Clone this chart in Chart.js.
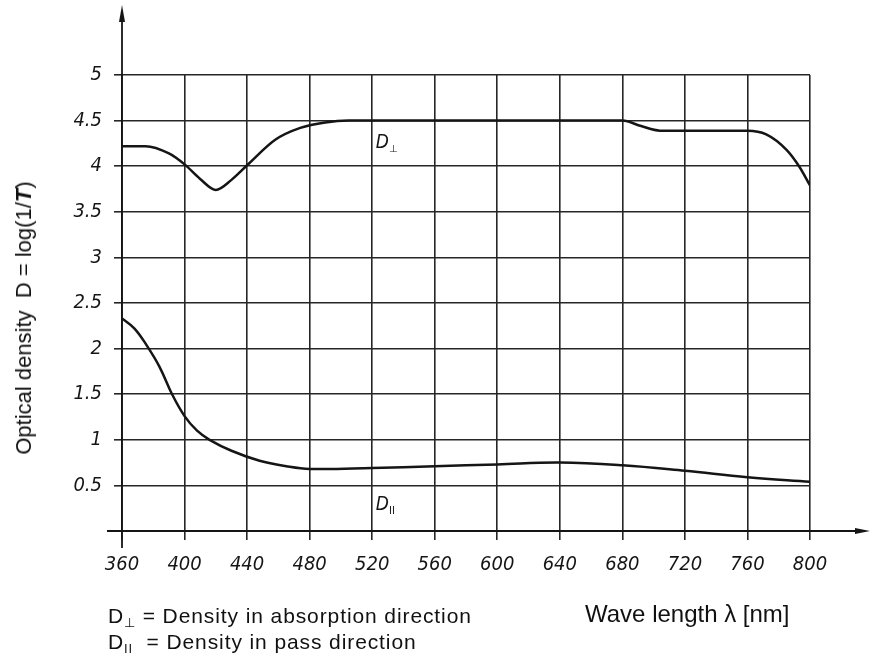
<!DOCTYPE html>
<html>
<head>
<meta charset="utf-8">
<script src="https://cdn.jsdelivr.net/npm/chart.js@4.4.1/dist/chart.umd.min.js"></script>
<style>
  html, body { margin: 0; padding: 0; background: #fff; }
  #wrap { position: relative; width: 875px; height: 658px; }
  #wrap canvas { position: absolute; left: 0; top: 0; }
  .note { position: absolute; font-family: 'Liberation Sans', Arial, sans-serif; color: #111; white-space: nowrap; line-height: 1; }
  .note sub { font-size: 13px; vertical-align: -4px; }
  .legend { font-size: 21px; letter-spacing: 0.9px; }
  #ytitle { font-size: 22px; left: 24px; top: 318px; transform: translate(-50%, -50%) rotate(-90deg); }
  #xtitle { font-size: 24px; left: 585px; top: 602px; }
</style>
</head>
<body>
<div id="wrap">
  <canvas id="chart" width="875" height="658"></canvas>
  <div id="ytitle" class="note">Optical density&nbsp; D = log(1/<b><i>T</i></b>)</div>
  <div class="note legend" style="left:108px; top:605px;">D<sub>⊥</sub> = Density in absorption direction</div>
  <div class="note legend" style="left:108px; top:631px;">D<sub>II</sub> &nbsp;= Density in pass direction</div>
  <div id="xtitle" class="note">Wave length λ [nm]</div>
</div>
<script>
// wavelength ticks (nm) and density ticks
const xTicks = [360, 400, 440, 480, 520, 560, 600, 640, 680, 720, 760, 800];
const yTicks = [0, 0.5, 1, 1.5, 2, 2.5, 3, 3.5, 4, 4.5, 5];

// D⊥ - density in absorption direction
const absWave = [360, 375, 390, 400, 410, 420, 430, 440, 458, 474, 490, 505, 540, 600, 660, 680, 692, 704, 730, 760, 772, 785, 793, 800];
const absDensity = [4.22, 4.22, 4.14, 4.02, 3.86, 3.74, 3.85, 4.01, 4.29, 4.42, 4.48, 4.5, 4.5, 4.5, 4.5, 4.5, 4.44, 4.39, 4.39, 4.39, 4.35, 4.18, 4.0, 3.79];

// D∥ - density in pass direction
const passWave = [360, 368, 376, 384, 392, 400, 408, 416, 430, 448, 465, 480, 520, 560, 600, 640, 680, 720, 760, 800];
const passDensity = [2.33, 2.22, 2.03, 1.8, 1.5, 1.26, 1.1, 1.0, 0.88, 0.77, 0.71, 0.68, 0.69, 0.71, 0.73, 0.75, 0.72, 0.66, 0.59, 0.54];

const INK = '#151515';
const GRID = '#262626';
const tickFont = { family: "'DejaVu Sans Condensed', 'DejaVu Sans', sans-serif", size: 20, style: 'italic' };

// axes with arrows + curve names
const decorations = {
    id: 'decorations',
    afterDraw(chart) {
        const ctx = chart.ctx;
        const x = chart.scales.x;
        const y = chart.scales.y;
        const x0 = x.getPixelForValue(360);
        const y0 = y.getPixelForValue(0);
        ctx.save();
        ctx.strokeStyle = INK;
        ctx.fillStyle = INK;
        ctx.lineWidth = 1.8;
        // horizontal axis
        ctx.beginPath();
        ctx.moveTo(x0 - 15, y0);
        ctx.lineTo(862, y0);
        ctx.stroke();
        ctx.beginPath();
        ctx.moveTo(870, y0);
        ctx.lineTo(855, y0 - 3);
        ctx.lineTo(855, y0 + 3);
        ctx.closePath();
        ctx.fill();
        // vertical axis
        ctx.beginPath();
        ctx.moveTo(x0, y0 + 17);
        ctx.lineTo(x0, 14);
        ctx.stroke();
        ctx.beginPath();
        ctx.moveTo(x0, 5);
        ctx.lineTo(x0 - 3, 22);
        ctx.lineTo(x0 + 3, 22);
        ctx.closePath();
        ctx.fill();

        // curve names
        const names = [
            { text: 'D', sub: '⊥', wave: 530, val: 4.25 },
            { text: 'D', sub: 'II', wave: 530, val: 0.28 }
        ];
        ctx.textBaseline = 'middle';
        ctx.textAlign = 'left';
        for (const n of names) {
            const px = x.getPixelForValue(n.wave) - 12;
            const py = y.getPixelForValue(n.val);
            ctx.font = "italic 19px 'DejaVu Sans Condensed', 'DejaVu Sans', sans-serif";
            ctx.fillText(n.text, px, py);
            const w = ctx.measureText(n.text).width;
            ctx.font = "10px 'DejaVu Sans', sans-serif";
            ctx.fillText(n.sub, px + w, py + 6);
        }
        ctx.restore();
    }
};

new Chart(document.getElementById('chart'), {
    type: 'line',
    data: {
        datasets: [{
            label: 'D⊥',
            data: absWave.map((w, i) => ({ x: w, y: absDensity[i] })),
            borderColor: INK,
            borderWidth: 2.5,
            pointRadius: 0,
            cubicInterpolationMode: 'monotone'
        }, {
            label: 'D∥',
            data: passWave.map((w, i) => ({ x: w, y: passDensity[i] })),
            borderColor: INK,
            borderWidth: 2.5,
            pointRadius: 0,
            tension: 0.4
        }]
    },
    options: {
        responsive: false,
        animation: false,
        layout: { padding: { left: 0, right: 65, top: 75, bottom: 0 } },
        plugins: { legend: { display: false }, tooltip: { enabled: false } },
        scales: {
            x: {
                type: 'linear',
                min: 360,
                max: 800,
                afterBuildTicks: (scale) => { scale.ticks = xTicks.map(v => ({ value: v })); },
                afterFit: (scale) => { scale.height = 127; },
                ticks: {
                    color: INK,
                    font: tickFont,
                    padding: 13,
                    maxRotation: 0,
                    callback: (v) => String(v)
                },
                grid: { color: GRID, lineWidth: 1.6, tickLength: 9 },
                border: { display: false }
            },
            y: {
                min: 0,
                max: 5,
                afterBuildTicks: (scale) => { scale.ticks = yTicks.map(v => ({ value: v })); },
                afterFit: (scale) => { scale.width = 122; },
                ticks: {
                    color: INK,
                    font: tickFont,
                    padding: 12,
                    callback: (v) => (v === 0 ? '' : String(v))
                },
                grid: { color: GRID, lineWidth: 1.6, tickLength: 8 },
                border: { display: false }
            }
        }
    },
    plugins: [decorations]
});
</script>
</body>
</html>
